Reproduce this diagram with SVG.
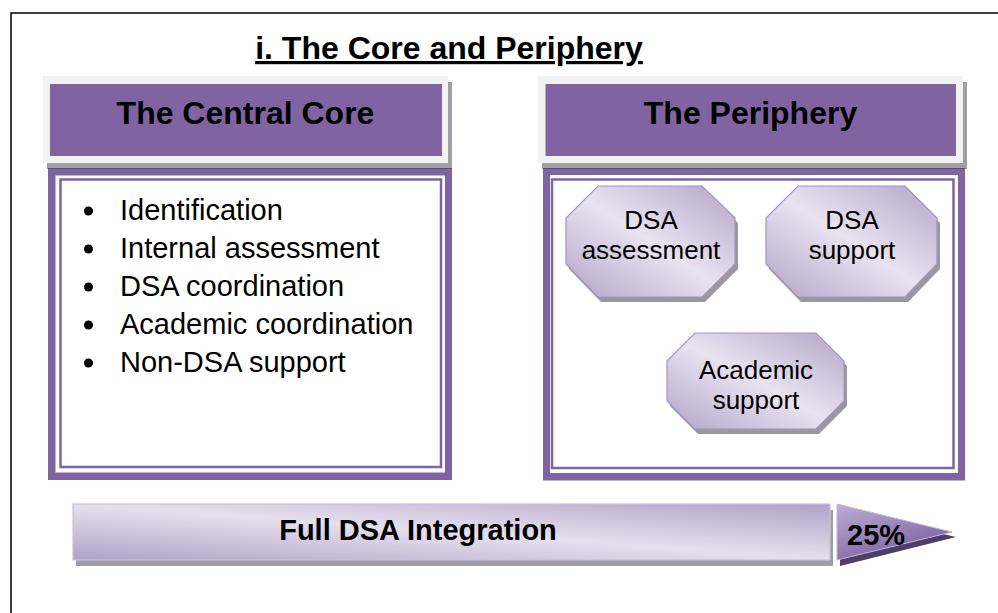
<svg xmlns="http://www.w3.org/2000/svg" width="998" height="613" viewBox="0 0 998 613">
<defs>
<style>
text{font-family:"Liberation Sans",Arial,sans-serif;fill:#000}
.hd{font-size:32px;font-weight:bold;text-anchor:middle}
.li{font-size:29px}
.oc{font-size:26px;text-anchor:middle}
.frame{fill:#f2f2f2}
.purple{fill:#8064a2}
.shadow{fill:#2e2a35;fill-opacity:0.45}
.oct{fill:url(#gOct);stroke:#a494bf;stroke-width:1.2}
.octsh{fill:#9b97a1}
.thin{fill:none;stroke:#8064a2;stroke-width:2.5}
</style>
<linearGradient id="gOct" x1="0" y1="1" x2="1" y2="0">
<stop offset="0" stop-color="#b4a4c9"/>
<stop offset="0.5" stop-color="#e8e3f0"/>
<stop offset="1" stop-color="#b4a4c9"/>
</linearGradient>
<linearGradient id="gBar" x1="0" y1="1" x2="1" y2="0">
<stop offset="0" stop-color="#b1a1c6"/>
<stop offset="0.5" stop-color="#e6e0ee"/>
<stop offset="1" stop-color="#b1a1c6"/>
</linearGradient>
<linearGradient id="gTri" x1="0" y1="0" x2="0.6" y2="1">
<stop offset="0" stop-color="#bcaed4"/>
<stop offset="1" stop-color="#7b5fa0"/>
</linearGradient>
</defs>

<rect x="11" y="13" width="1000" height="620" fill="#fff" stroke="#000" stroke-width="1.5"/>

<g id="title">
<text x="449" y="59" font-size="32" font-weight="bold" text-anchor="middle" text-decoration="underline">i. The Core and Periphery</text>
</g>

<g id="core-body">
<rect class="purple" x="48" y="168" width="404" height="312"/>
<rect fill="#fff" x="55.5" y="175.5" width="389.5" height="297"/>
<rect class="thin" x="60.5" y="179.5" width="380.5" height="287.5"/>
<circle cx="88.5" cy="211" r="4.5"/>
<circle cx="88.5" cy="249" r="4.5"/>
<circle cx="88.5" cy="287" r="4.5"/>
<circle cx="88.5" cy="325" r="4.5"/>
<circle cx="88.5" cy="363" r="4.5"/>
<text class="li" x="120" y="220">Identification</text>
<text class="li" x="120" y="258">Internal assessment</text>
<text class="li" x="120" y="296">DSA coordination</text>
<text class="li" x="120" y="334">Academic coordination</text>
<text class="li" x="120" y="372">Non-DSA support</text>
</g>

<g id="core-header">
<rect class="shadow" x="47" y="82" width="405" height="87"/>
<rect class="frame" x="43" y="76" width="405" height="87"/>
<rect class="purple" x="50" y="84" width="392" height="72"/>
<text class="hd" x="245.5" y="124">The Central Core</text>
</g>

<g id="periphery-body">
<rect class="purple" x="543" y="168" width="422" height="312.5"/>
<rect fill="#fff" x="550" y="175" width="408" height="298"/>
<rect class="thin" x="552" y="179.5" width="401.5" height="288.5"/>
</g>

<g id="periphery-header">
<rect class="shadow" x="542" y="82" width="425" height="87"/>
<rect class="frame" x="538" y="76" width="425" height="87"/>
<rect class="purple" x="545.5" y="84" width="410.5" height="72"/>
<text class="hd" x="750.5" y="124">The Periphery</text>
</g>

<g id="node-dsa-assessment">
<polygon class="octsh" points="601,191 705,191 738,223 738,269 705,302 601,302 569,269 569,223"/>
<polygon class="oct" points="598,186 702,186 735,218 735,264 702,297 598,297 566,264 566,218"/>
<text class="oc" x="651" y="229">DSA</text>
<text class="oc" x="651" y="259">assessment</text>
</g>

<g id="node-dsa-support">
<polygon class="octsh" points="801,191 908,191 940,223 940,269 908,302 801,302 769,269 769,223"/>
<polygon class="oct" points="798,186 905,186 937,218 937,264 905,297 798,297 766,264 766,218"/>
<text class="oc" x="852" y="229">DSA</text>
<text class="oc" x="852" y="259">support</text>
</g>

<g id="node-academic-support">
<polygon class="octsh" points="698,338 819,338 847,366 847,406 819,434 698,434 670,406 670,366"/>
<polygon class="oct" points="695,333 816,333 844,361 844,401 816,429 695,429 667,401 667,361"/>
<text class="oc" x="756" y="379">Academic</text>
<text class="oc" x="756" y="409">support</text>
</g>

<g id="integration-bar">
<rect fill="#a09ca7" x="76" y="510" width="757" height="56"/>
<rect fill="url(#gBar)" stroke="#cbc1da" stroke-width="1.2" x="73" y="504" width="757" height="56"/>
<text x="418" y="540" font-size="29" font-weight="bold" text-anchor="middle">Full DSA Integration</text>
<polygon fill="#4e3c6a" points="840,510 956,537 840,566"/>
<polygon fill="url(#gTri)" stroke="#c4b8da" stroke-width="1" points="837,504 952,532 837,560"/>
<text x="847" y="545" font-size="29" font-weight="bold">25%</text>
</g>

<g id="connectors"/>
</svg>
